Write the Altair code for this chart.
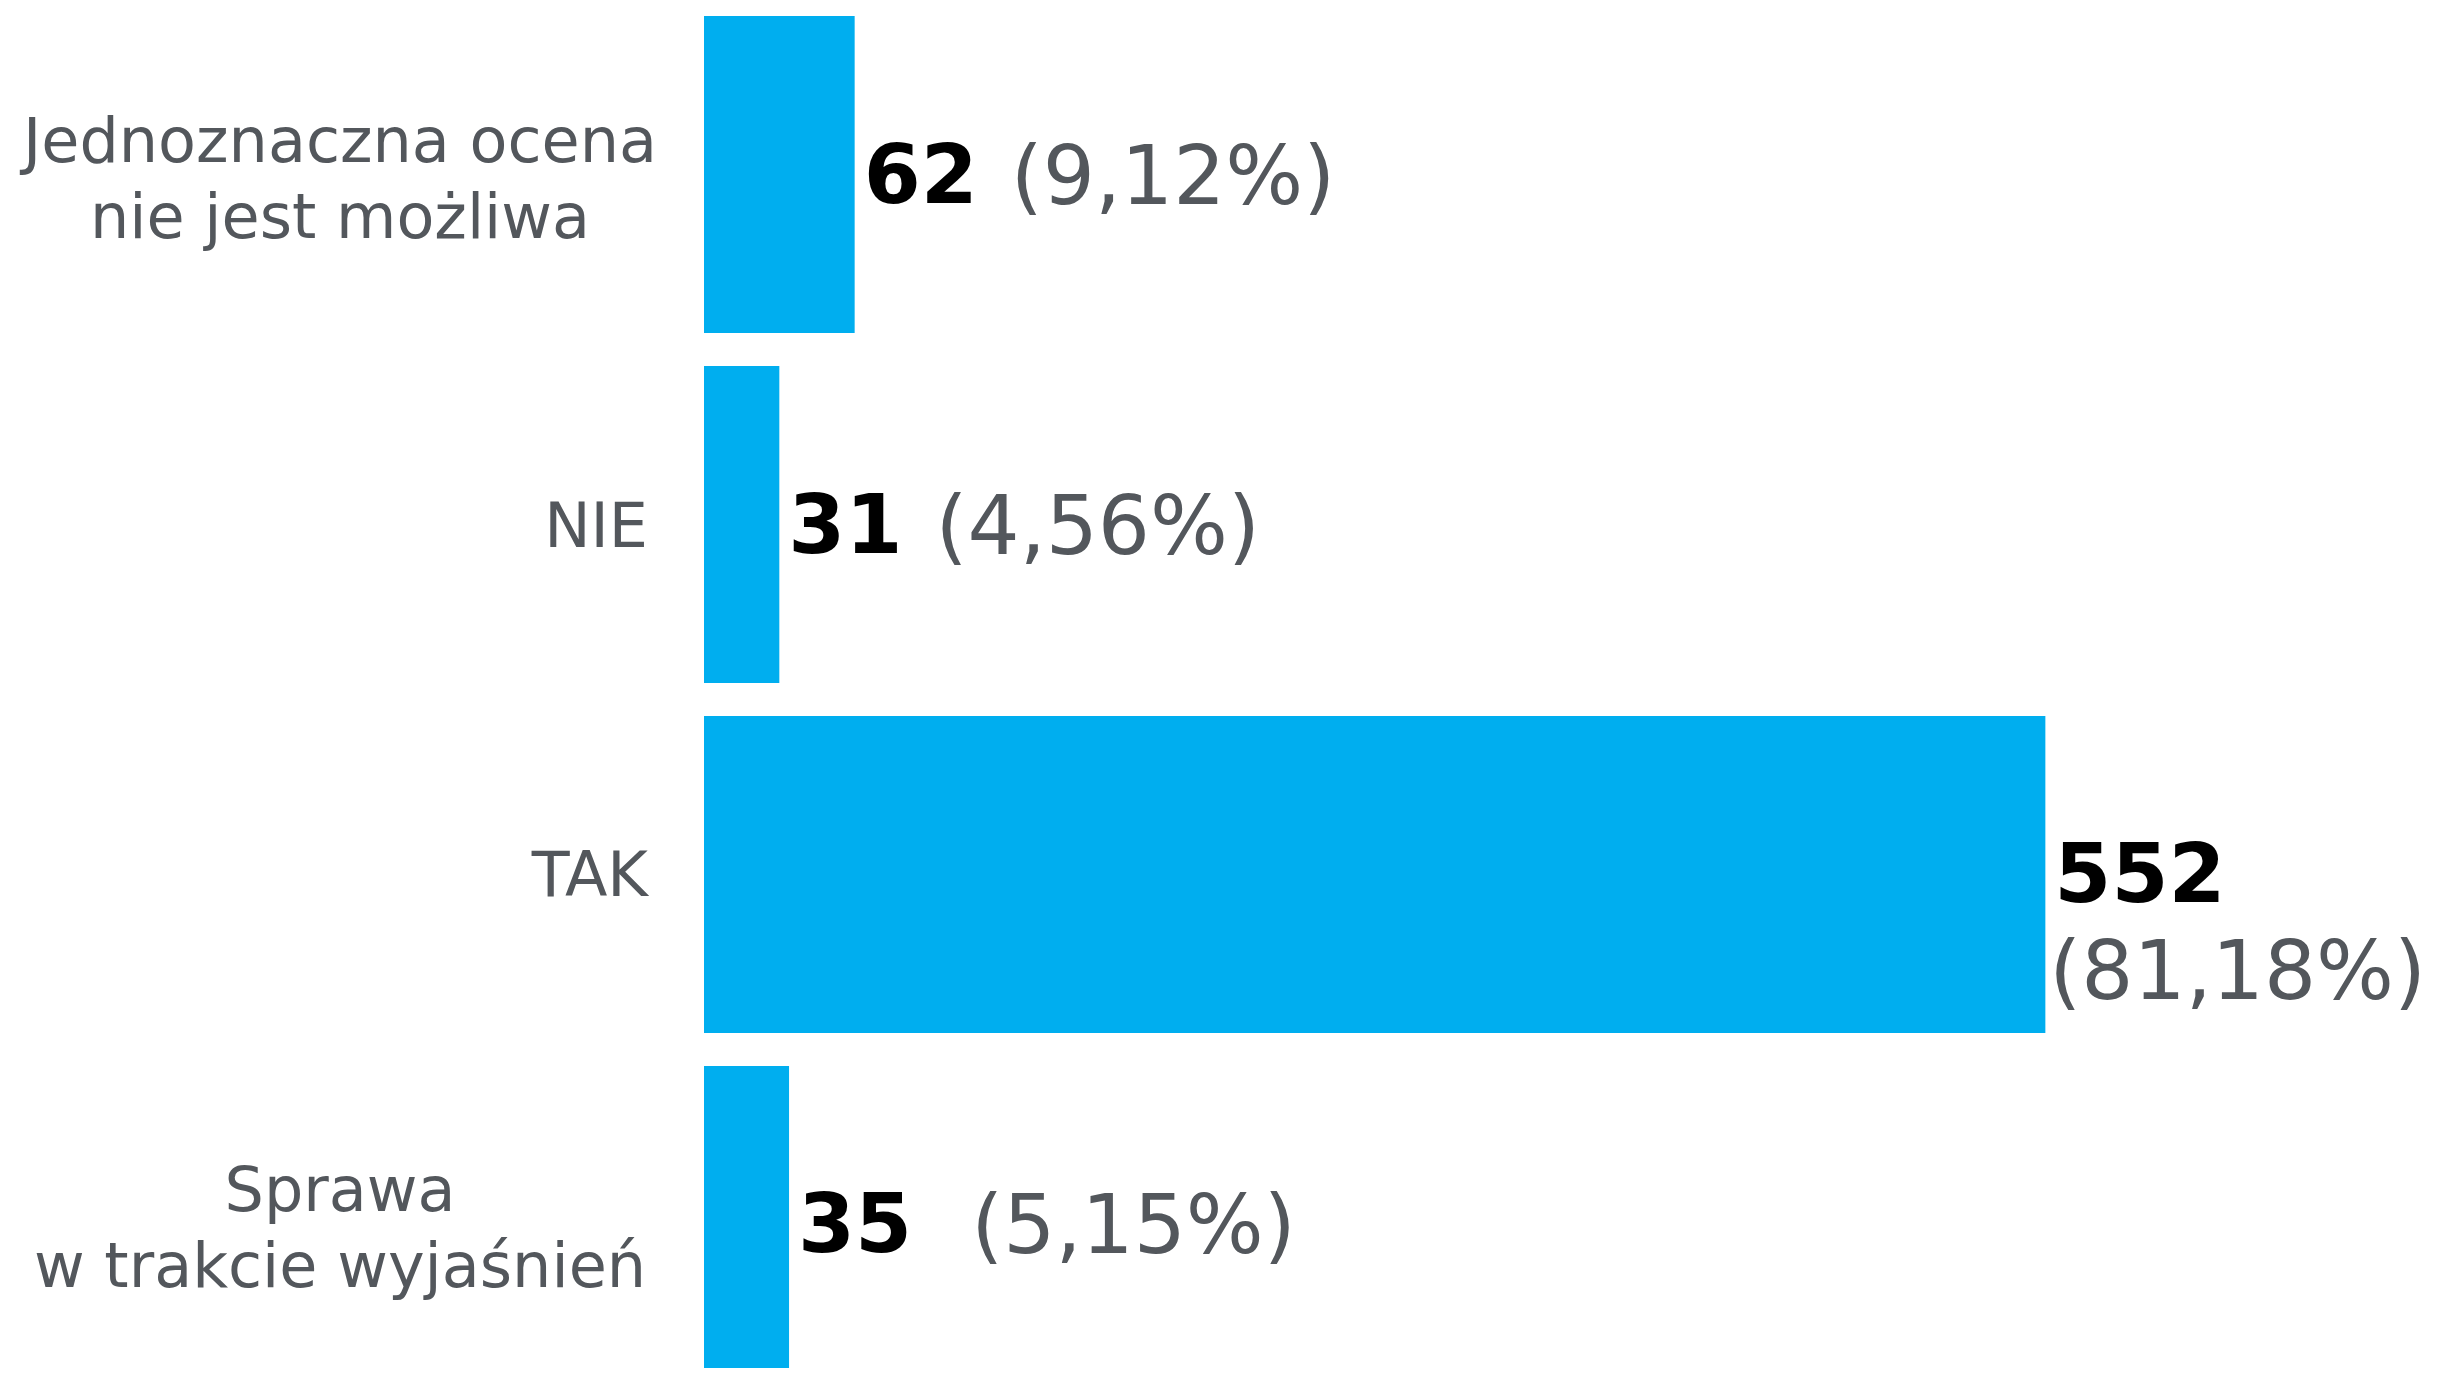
import altair as alt
import pandas as pd

# ---- data -------------------------------------------------------------
categories = ["Jednoznaczna ocena\nnie jest możliwa", "NIE", "TAK", "Sprawa\nw trakcie wyjaśnień"]
counts = [62, 31, 552, 35]
shares = [9.12, 4.56, 81.18, 5.15]
separators = [" ", " ", "\n", "  "]   # how the count and the share are joined in the label

# ---- style ------------------------------------------------------------
BAR_COLOR = "#00AEEF"
GRAY = "#53575C"
FONT = "DejaVu Sans"
CAT_SIZE = 62
VAL_SIZE = 82
X_MAX = 700
PLOT_W = 1701
PLOT_H = 1360
PX_PER_UNIT = PLOT_W / X_MAX
BOLD_DIGIT = 0.696 * VAL_SIZE
SPACE_W = 0.318 * VAL_SIZE

df = pd.DataFrame({
    "cat": categories,
    "value": counts,
    "pct": ["(" + f"{v:.2f}".replace(".", ",") + "%)" for v in shares],
    "sep": separators,
    "wrap": [s == "\n" for s in separators],
    "lines": [c.count("\n") + 1 for c in categories],
})

y_enc = alt.Y(
    "cat:N",
    sort=categories,
    axis=None,
    scale=alt.Scale(range=[0, 1383], paddingInner=0.0943, paddingOuter=0.0229),
)
x_scale = alt.Scale(domain=[0, X_MAX], nice=False, zero=True)

base = alt.Chart(df)

bars = base.mark_bar(color=BAR_COLOR).encode(
    y=y_enc,
    x=alt.X("value:Q", scale=x_scale, axis=None),
)

cat_single = base.transform_filter("datum.lines == 1").mark_text(
    align="right", baseline="middle", font=FONT, fontSize=CAT_SIZE, color=GRAY, dy=3
).encode(y=y_enc, x=alt.value(-56), text="cat:N")

cat_multi = base.transform_filter("datum.lines > 1").mark_text(
    align="center", baseline="middle", font=FONT, fontSize=CAT_SIZE, color=GRAY,
    lineBreak="\n", lineHeight=76, dy=-32
).encode(y=y_enc, x=alt.value(-364), text="cat:N")

num = base.mark_text(
    align="left", baseline="middle", font=FONT, fontSize=VAL_SIZE, fontWeight="bold",
    color="#000000", dx=9, dy=3
).encode(y=y_enc, x=alt.X("value:Q", scale=x_scale), text="value:Q")

pct_inline = base.transform_filter("!datum.wrap").transform_calculate(
    px=(f"datum.value + (9 + length(toString(datum.value)) * {BOLD_DIGIT} + 33"
        f" + (length(datum.sep) - 1) * {SPACE_W}) / {PX_PER_UNIT}")
).mark_text(
    align="left", baseline="middle", font=FONT, fontSize=VAL_SIZE, color=GRAY, dy=4
).encode(y=y_enc, x=alt.X("px:Q", scale=x_scale), text="pct:N")

pct_wrap = base.transform_filter("datum.wrap").mark_text(
    align="left", baseline="middle", font=FONT, fontSize=VAL_SIZE, color=GRAY, dx=4, dy=100
).encode(y=y_enc, x=alt.X("value:Q", scale=x_scale), text="pct:N")

chart = alt.layer(bars, cat_single, cat_multi, num, pct_inline, pct_wrap).properties(
    width=PLOT_W,
    height=PLOT_H,
    padding={"left": 696, "top": 0, "right": 23, "bottom": 0},
    autosize=alt.AutoSizeParams(type="none"),
    background="white",
).configure_view(stroke=None)

chart.save("out.html", embed_options={"renderer": "svg", "actions": False})
